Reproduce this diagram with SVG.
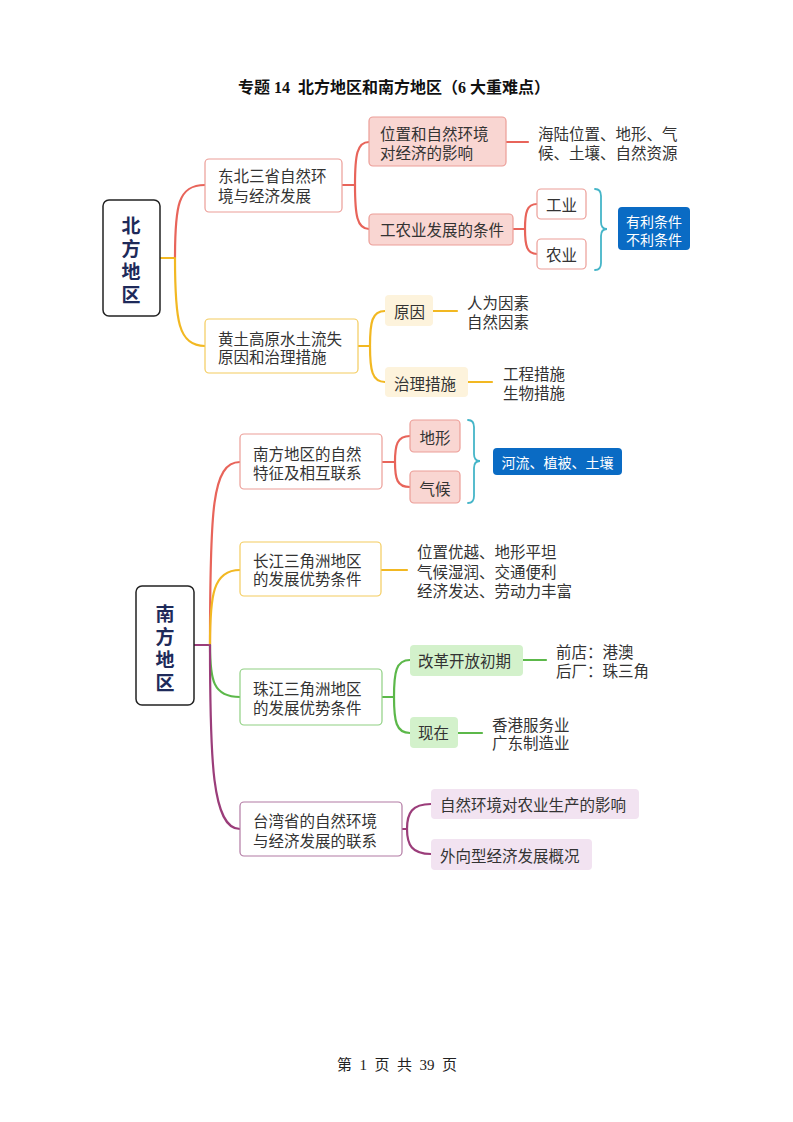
<svg xmlns="http://www.w3.org/2000/svg" width="793" height="1122" viewBox="0 0 793 1122">
<style>
text{font-family:"Noto Sans CJK SC","Noto Sans",sans-serif;fill:#333;font-size:15.5px;dominant-baseline:central}
.root{font-weight:bold;fill:#1e2a5a;font-size:19px;text-anchor:middle}
.title{font-family:"Liberation Serif","Noto Sans CJK SC",serif;font-weight:bold;font-size:16px;fill:#111;text-anchor:middle;white-space:pre}
.foot{font-family:"Liberation Serif","Noto Sans CJK SC",serif;font-size:15px;fill:#222;text-anchor:middle;white-space:pre}
.mid{text-anchor:middle}
.wt{fill:#fff;font-size:14px;text-anchor:middle}
.rootbox{fill:#fff;stroke:#222;stroke-width:1.5}
.redbox{fill:#fff;stroke:#ec9d97;stroke-width:1.2}
.pinkbox{fill:#f9d6d2;stroke:#ec9d97;stroke-width:1.2}
.yelbox{fill:#fff;stroke:#f4cc5e;stroke-width:1.2}
.creambox{fill:#fdf3dc}
.grnbox{fill:#fff;stroke:#8fd082;stroke-width:1.2}
.lgbox{fill:#d3f1cb}
.purbox{fill:#fff;stroke:#b27aa3;stroke-width:1.2}
.lpbox{fill:#f2e3f1}
.bluebox{fill:#0a6bc4}
.c{fill:none;stroke-width:2.2;stroke-linecap:round}
.r{stroke:#e8645a}.y{stroke:#f2b822}.g{stroke:#5cb84a}.p{stroke:#9b3d7a}.t{stroke:#45b5c8;stroke-width:1.8}
</style>
<rect width="793" height="1122" fill="#fff"/>
<text class="title" x="394" y="87" xml:space="preserve">专题 14  北方地区和南方地区（6 大重难点）</text>

<g id="connectors">
  <path class="c y" d="M160,258 L175,258"/>
  <path class="c r" d="M175,258 C175,205 178,185 205,185"/>
  <path class="c y" d="M175,258 C175,320 178,346 205,346"/>
  <path class="c r" d="M342,185 L355,185"/>
  <path class="c r" d="M355,185 C355,155 357,142 369,142"/>
  <path class="c r" d="M355,185 C355,215 357,229 369,229"/>
  <path class="c r" d="M506,142 L528,142"/>
  <path class="c r" d="M513,229 L525,229"/>
  <path class="c r" d="M525,229 C525,212 527,204 537,204"/>
  <path class="c r" d="M525,229 C525,246 527,254 537,254"/>
  <path class="c t" d="M595,189 Q601,189 601,196 L601,222 Q601,229 607,229 Q601,229 601,236 L601,263 Q601,270 595,270"/>
  <path class="c y" d="M358,346 L370,346"/>
  <path class="c y" d="M370,346 C370,322 372,311 385,311"/>
  <path class="c y" d="M370,346 C370,370 372,382 385,382"/>
  <path class="c y" d="M433,311 L457,311"/>
  <path class="c y" d="M468,382 L492,382"/>

  <path class="c p" d="M194,645 L210,645"/>
  <path class="c r" d="M210,645 C210,510 212,462 240,462"/>
  <path class="c y" d="M210,645 C210,595 213,570 240,570"/>
  <path class="c g" d="M210,645 C210,680 213,697 240,697"/>
  <path class="c p" d="M210,645 C210,760 212,829 240,829"/>
  <path class="c r" d="M382,462 L395,462"/>
  <path class="c r" d="M395,462 C395,445 397,436 410,436"/>
  <path class="c r" d="M395,462 C395,479 397,487 410,487"/>
  <path class="c t" d="M468,420 Q474,420 474,427 L474,454 Q474,461 480,461 Q474,461 474,468 L474,496 Q474,503 468,503"/>
  <path class="c y" d="M381,570 L407,570"/>
  <path class="c g" d="M382,697 L394,697"/>
  <path class="c g" d="M394,697 C394,672 396,660 410,660"/>
  <path class="c g" d="M394,697 C394,721 396,733 410,733"/>
  <path class="c g" d="M523,660 L546,660"/>
  <path class="c g" d="M458,733 L482,733"/>
  <path class="c p" d="M402,829 L407,829"/>
  <path class="c p" d="M407,829 C407,813 412,804 431,804"/>
  <path class="c p" d="M407,829 C407,845 412,854 431,854"/>
</g>

<g id="north">
  <rect class="rootbox" x="103" y="200" width="57" height="116" rx="6"/>
  <text class="root" x="131" y="224">北<tspan x="131" dy="23">方</tspan><tspan x="131" dy="23">地</tspan><tspan x="131" dy="23">区</tspan></text>
</g>
<g id="dongbei">
  <rect class="redbox" x="205" y="159" width="137" height="53" rx="4"/>
  <text x="218" y="175">东北三省自然环<tspan x="218" dy="20">境与经济发展</tspan></text>
</g>
<g id="weizhi">
  <rect class="pinkbox" x="369" y="117" width="137" height="49" rx="4"/>
  <text x="380" y="133">位置和自然环境<tspan x="380" dy="19">对经济的影响</tspan></text>
</g>
<g id="hailu">
  <text x="538" y="133">海陆位置、地形、气<tspan x="538" dy="19">候、土壤、自然资源</tspan></text>
</g>
<g id="gongnongye">
  <rect class="pinkbox" x="369" y="214" width="144" height="31" rx="4"/>
  <text x="380" y="229">工农业发展的条件</text>
</g>
<g id="gongye">
  <rect class="redbox" x="537" y="189" width="49" height="30" rx="4"/>
  <text class="mid" x="561.5" y="204">工业</text>
</g>
<g id="nongye">
  <rect class="redbox" x="537" y="239" width="49" height="30" rx="4"/>
  <text class="mid" x="561.5" y="254">农业</text>
</g>
<g id="youli">
  <rect class="bluebox" x="618" y="207" width="72" height="43" rx="4"/>
  <text class="wt" x="654" y="221">有利条件<tspan x="654" dy="18">不利条件</tspan></text>
</g>
<g id="huangtu">
  <rect class="yelbox" x="205" y="319" width="153" height="54" rx="4"/>
  <text x="218" y="338">黄土高原水土流失<tspan x="218" dy="18">原因和治理措施</tspan></text>
</g>
<g id="yuanyin">
  <rect class="creambox" x="385" y="295" width="48" height="31" rx="4"/>
  <text x="394" y="311">原因</text>
</g>
<g id="renwei">
  <text x="467" y="302">人为因素<tspan x="467" dy="19">自然因素</tspan></text>
</g>
<g id="zhili">
  <rect class="creambox" x="385" y="367" width="83" height="30" rx="4"/>
  <text x="394" y="383">治理措施</text>
</g>
<g id="gongcheng">
  <text x="503" y="373">工程措施<tspan x="503" dy="19">生物措施</tspan></text>
</g>

<g id="south">
  <rect class="rootbox" x="136" y="586" width="58" height="119" rx="6"/>
  <text class="root" x="165" y="612">南<tspan x="165" dy="23">方</tspan><tspan x="165" dy="23">地</tspan><tspan x="165" dy="23">区</tspan></text>
</g>
<g id="nanfang">
  <rect class="redbox" x="240" y="434" width="142" height="55" rx="4"/>
  <text x="253" y="453">南方地区的自然<tspan x="253" dy="19">特征及相互联系</tspan></text>
</g>
<g id="dixing">
  <rect class="pinkbox" x="410" y="420" width="50" height="32" rx="4"/>
  <text class="mid" x="435" y="437">地形</text>
</g>
<g id="qihou">
  <rect class="pinkbox" x="410" y="471" width="50" height="32" rx="4"/>
  <text class="mid" x="435" y="488">气候</text>
</g>
<g id="heliu">
  <rect class="bluebox" x="493" y="448" width="129" height="27" rx="4"/>
  <text class="wt" x="557.5" y="462">河流、植被、土壤</text>
</g>
<g id="changjiang">
  <rect class="yelbox" x="240" y="542" width="141" height="54" rx="4"/>
  <text x="253" y="560">长江三角洲地区<tspan x="253" dy="18">的发展优势条件</tspan></text>
</g>
<g id="cj-text">
  <text x="417" y="551">位置优越、地形平坦<tspan x="417" dy="19.5">气候湿润、交通便利</tspan><tspan x="417" dy="19.5">经济发达、劳动力丰富</tspan></text>
</g>
<g id="zhujiang">
  <rect class="grnbox" x="240" y="669" width="142" height="56" rx="4"/>
  <text x="253" y="688">珠江三角洲地区<tspan x="253" dy="19">的发展优势条件</tspan></text>
</g>
<g id="gaige">
  <rect class="lgbox" x="410" y="645" width="113" height="31" rx="4"/>
  <text x="418" y="660">改革开放初期</text>
</g>
<g id="qiandian">
  <text x="556" y="651">前店：港澳<tspan x="556" dy="19">后厂：珠三角</tspan></text>
</g>
<g id="xianzai">
  <rect class="lgbox" x="410" y="717" width="48" height="31" rx="4"/>
  <text x="418" y="732">现在</text>
</g>
<g id="xianggang">
  <text x="492" y="724">香港服务业<tspan x="492" dy="18">广东制造业</tspan></text>
</g>
<g id="taiwan">
  <rect class="purbox" x="240" y="802" width="162" height="54" rx="4"/>
  <text x="253" y="820">台湾省的自然环境<tspan x="253" dy="20">与经济发展的联系</tspan></text>
</g>
<g id="ziran">
  <rect class="lpbox" x="431" y="789" width="208" height="30" rx="4"/>
  <text x="440" y="804">自然环境对农业生产的影响</text>
</g>
<g id="waixiang">
  <rect class="lpbox" x="431" y="839" width="161" height="31" rx="4"/>
  <text x="440" y="855">外向型经济发展概况</text>
</g>

<text class="foot" x="397" y="1065" xml:space="preserve">第  1  页  共  39  页</text>
</svg>
